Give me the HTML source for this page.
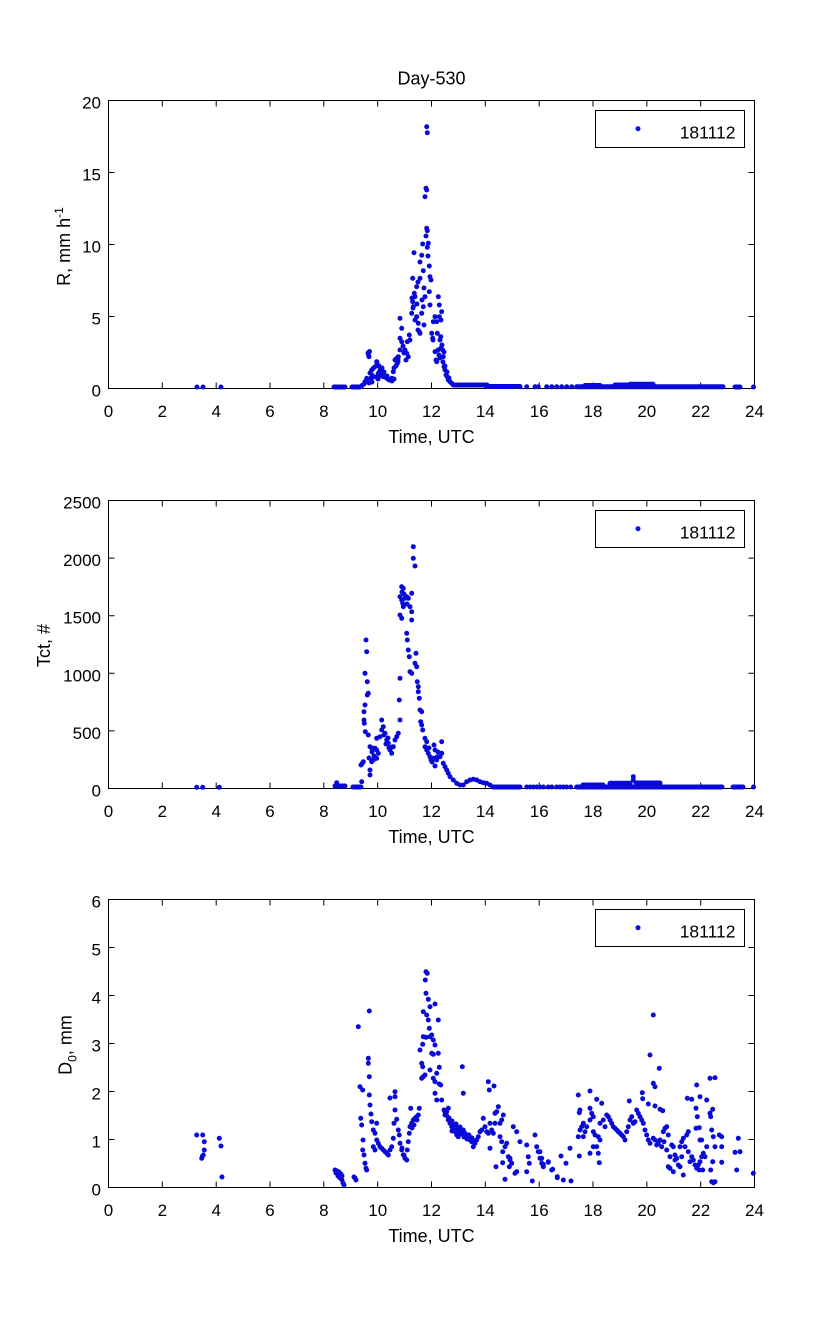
<!DOCTYPE html>
<html><head><meta charset="utf-8"><style>
html,body{margin:0;padding:0;background:#fff;}
svg{display:block;}
text{font-family:"Liberation Sans",Arial,sans-serif;fill:#000;}
.t{font-size:17px;}
.lg{font-size:17.5px;}
.l{font-size:18px;}
.ax{fill:none;stroke:#000;stroke-width:1;}
.pt{fill:none;stroke:#0a0ad8;stroke-width:5;stroke-linecap:round;stroke-linejoin:round;}
</style></head><body>
<svg width="833" height="1334" viewBox="0 0 833 1334" xmlns="http://www.w3.org/2000/svg">
<rect width="833" height="1334" fill="#fff"/>

<!-- ============ PLOT 1 ============ -->
<text class="l" x="431.5" y="84.5" text-anchor="middle">Day-530</text>
<rect class="ax" x="108.5" y="100.5" width="646" height="288"/>
<path class="ax" d="M162.3 388.5v-6M216.2 388.5v-6M270 388.5v-6M323.8 388.5v-6M377.7 388.5v-6M431.5 388.5v-6M485.3 388.5v-6M539.2 388.5v-6M593 388.5v-6M646.8 388.5v-6M700.7 388.5v-6
M162.3 100.5v6M216.2 100.5v6M270 100.5v6M323.8 100.5v6M377.7 100.5v6M431.5 100.5v6M485.3 100.5v6M539.2 100.5v6M593 100.5v6M646.8 100.5v6M700.7 100.5v6
M108.5 316.5h6M108.5 244.5h6M108.5 172.5h6M754.5 316.5h-6M754.5 244.5h-6M754.5 172.5h-6"/>
<g class="t" text-anchor="middle">
<text x="108.5" y="417">0</text><text x="162.3" y="417">2</text><text x="216.2" y="417">4</text><text x="270" y="417">6</text><text x="323.8" y="417">8</text><text x="377.7" y="417">10</text><text x="431.5" y="417">12</text><text x="485.3" y="417">14</text><text x="539.2" y="417">16</text><text x="593" y="417">18</text><text x="646.8" y="417">20</text><text x="700.7" y="417">22</text><text x="754.5" y="417">24</text>
</g>
<g class="t" text-anchor="end">
<text x="101" y="396.5">0</text><text x="101" y="324.5">5</text><text x="101" y="252.5">10</text><text x="101" y="180.5">15</text><text x="101" y="108.5">20</text>
</g>
<text class="l" x="431.5" y="443" text-anchor="middle">Time, UTC</text>
<text class="l" transform="translate(70,246.5) rotate(-90)" text-anchor="middle">R, mm h<tspan font-size="12" dy="-7">-1</tspan></text>
<rect class="ax" x="595.5" y="110.5" width="149" height="37"/>
<path class="pt" d="M638 128.7h0"/>
<text class="lg" x="735.5" y="138.5" text-anchor="end">181112</text>

<path class="pt" d="M197 387h0M203 387h0M221 387h0M334 387H345M352 387H360M362 385.5h0M364 384h0M365 381.7h0M366.7 378.3h0
M368 353h0M369 356.7h0M369.5 351.5h0M368.5 355h0
M367 380h0M369 383h0M371 378h0M372 375h0M372 382h0M370 373h0M371.7 370h0M373.3 368.3h0M375 366.7h0M376.7 361.7h0M377 363h0M376.7 376.7h0M378.3 373.3h0M380 370h0M381.7 373.3h0M383.3 376.7h0M386.7 378.3h0M390 380h0M391.7 378.3h0M393.3 371.7h0M374 377h0M378 379h0M380 376h0M385 377h0M388 379h0M382 368h0M379 366h0M384 372h0M387 376h0M389 380h0M392 381h0M394 379h0
M395 360h0M396.7 358.3h0M398.3 356.7h0M400 350h0M401.7 341.7h0M400 338.3h0M401.7 328.3h0M400 318.3h0M405 350h0M406.7 353.3h0M408.3 356.7h0M406 360h0M407.3 341.7h0M409.3 335h0M410 340h0M398 362h0M397 364h0M403 346h0M404 353h0M396 366h0M394 368h0M398 360h0
M411.7 313.3h0M413.3 306.7h0M412.7 301.7h0M415 296.7h0M414.3 293.3h0M416.7 286.7h0M412.7 278.3h0M414 252.7h0M421.7 255.3h0M422.7 244h0M420 278.3h0M423.3 270.7h0M416.7 316.7h0M418.3 323.3h0M420 333.3h0M419.3 331.7h0M421.7 313.3h0M423.3 306.7h0M424 325h0M425 296.7h0M413 308h0M417 304h0M415 320h0M418 330h0M412 298h0M422 300h0M424 288h0M420 262h0M418 282h0
M426.7 126.7h0M427.3 132.7h0M426 188.3h0M426.7 190h0M425 196.7h0M426.7 228.3h0M427.3 230.7h0M428.3 243.3h0M427.3 247.3h0M429.3 266h0M430 276.7h0M429.3 291.7h0M430 305h0M431.7 333.3h0M432.7 338.3h0M433.3 321.7h0M435 316.7h0M436.7 321.7h0M437.3 333.3h0M438.3 296.7h0M439.3 305h0M439.3 316.7h0M440 340h0M440.7 336.7h0M441.7 311.7h0M442.7 350h0M443.3 356.7h0M444 366.7h0M445 370h0M446 375h0M447.3 376.7h0M448.3 380h0M450 381.7h0M451.7 383.3h0M453.3 385h0M433 340h0M435 351.7h0M436 360h0M436.7 361.7h0M431 280h0M441 320h0M442 345h0M438 350h0M439 355h0M440 358h0M441 348h0M443 362h0M445 366h0M447 372h0M449 378h0M444 352h0M426 236h0M428 256h0
M455 385H487M487 386.5H520M526.7 386.8h0M535 386.8h0M538.3 386.8h0M546.7 386.8h0M551.7 386.8h0M556.7 386.8h0M561.7 386.8h0M566.7 386.8h0M571.7 386.8h0M576.7 386.8H723M585 385.5H600M615 385H627M630 384.3H653M735 387H740M753.5 387h0"/>

<!-- ============ PLOT 2 ============ -->
<rect class="ax" x="108.5" y="500.5" width="646" height="288"/>
<path class="ax" d="M162.3 788.5v-6M216.2 788.5v-6M270 788.5v-6M323.8 788.5v-6M377.7 788.5v-6M431.5 788.5v-6M485.3 788.5v-6M539.2 788.5v-6M593 788.5v-6M646.8 788.5v-6M700.7 788.5v-6
M162.3 500.5v6M216.2 500.5v6M270 500.5v6M323.8 500.5v6M377.7 500.5v6M431.5 500.5v6M485.3 500.5v6M539.2 500.5v6M593 500.5v6M646.8 500.5v6M700.7 500.5v6
M108.5 730.9h6M108.5 673.3h6M108.5 615.7h6M108.5 558.1h6M754.5 730.9h-6M754.5 673.3h-6M754.5 615.7h-6M754.5 558.1h-6"/>
<g class="t" text-anchor="middle">
<text x="108.5" y="817">0</text><text x="162.3" y="817">2</text><text x="216.2" y="817">4</text><text x="270" y="817">6</text><text x="323.8" y="817">8</text><text x="377.7" y="817">10</text><text x="431.5" y="817">12</text><text x="485.3" y="817">14</text><text x="539.2" y="817">16</text><text x="593" y="817">18</text><text x="646.8" y="817">20</text><text x="700.7" y="817">22</text><text x="754.5" y="817">24</text>
</g>
<g class="t" text-anchor="end">
<text x="101" y="796.5">0</text><text x="101" y="738.9">500</text><text x="101" y="681.3">1000</text><text x="101" y="623.7">1500</text><text x="101" y="566.1">2000</text><text x="101" y="508.5">2500</text>
</g>
<text class="l" x="431.5" y="843" text-anchor="middle">Time, UTC</text>
<text class="l" transform="translate(50,645.5) rotate(-90)" text-anchor="middle">Tct, #</text>
<rect class="ax" x="595.5" y="510.5" width="149" height="37"/>
<path class="pt" d="M638 528.7h0"/>
<text class="lg" x="735.5" y="538.5" text-anchor="end">181112</text>

<path class="pt" d="M196.7 787.3h0M202.7 787.3h0M219.3 787.3h0M335 786H345M336.7 782.7h0M353 787H361M361.7 781.7h0M362.3 763.3h0M363.3 761.7h0M361 765h0
M366 640h0M366.7 651.7h0
M365 673.3h0M367.3 681.7h0M368.3 693.3h0M367.3 695h0M365 705h0M364 711.7h0M364.3 723.3h0M365.3 731.7h0M368.3 735h0M364 720h0
M370 746.7h0M371.7 748.3h0M373.3 748.3h0M375 748.3h0M376.7 750h0M378.3 753.3h0M376.7 758.3h0M373.3 760h0M371.7 761.7h0M370 770h0M370 775h0M372 752h0M374 756h0M369 758h0
M376.7 738.3h0M380 736.7h0M381.7 730h0M381.7 720h0M383.3 726.7h0M385 733.3h0M386.7 740h0M388.3 743.3h0M390 750h0M391.7 753.3h0M393.3 746.7h0M395 740h0M396.7 736.7h0M398.3 733.3h0M400 720h0M399.3 700h0M400 678.3h0M384 735h0M386 744h0M389 748h0M392 747h0M388 738h0
M401.7 586.7h0M403.3 588.3h0M400 596.7h0M401.7 600h0M402.7 603.3h0M403.3 606.7h0M400 615h0M401.7 618.3h0M405 598.3h0M406.7 596.7h0M408.3 598.3h0M411.7 593.3h0M410 606.7h0M411.7 611.7h0M411.7 620h0M402 592h0M404 594h0M407 604h0
M406.7 633.3h0M407.3 640h0M408.3 650h0M409.3 656.7h0M410 671.7h0M411.7 673.3h0
M413.3 546.7h0M413.3 558.3h0M415 566h0
M416 653.3h0M415 663.3h0M416.7 666.7h0M417.3 681.7h0M418.3 686.7h0M418.3 691.7h0M419.3 698.3h0M420 710h0M421.7 711.7h0M420.7 721.7h0M421.7 725h0M422.7 730h0M425 738.3h0M426.7 741.7h0M425 746.7h0M426.7 750h0M428.3 753.3h0M430 756.7h0M433.3 758.3h0M436.7 760h0M440 756.7h0M441.7 753.3h0M441.7 741.7h0M443.3 763.3h0M445 766.7h0M446.7 770h0M448.3 773.3h0M450 776.7h0M453.3 780h0M456.7 783.3h0M460 785h0M463.3 785h0M466.7 781.7h0M470 780h0M473.3 779.3h0M476.7 780h0M480 781.7h0M483.3 782.7h0M486.7 783.3h0M490 785h0M435 750h0M432 762h0M438 752h0M429 748h0M434 745h0M437 757h0M431 760h0M435 766h0
M493 787H520M526.7 787h0M530 787h0M533.3 787h0M536.7 787h0M540 787h0M543.3 787h0M548.3 787h0M551.7 787h0M556.7 787h0M560 787h0M563.3 787h0M566.7 787h0M570.7 787h0M576.7 787H722M583 785H603M610 783.3H630M636 783H660M633.3 776.7h0M633.3 780h0M733 787H743M753.5 787h0"/>

<!-- ============ PLOT 3 ============ -->
<rect class="ax" x="108.5" y="899.5" width="646" height="288"/>
<path class="ax" d="M162.3 1187.5v-6M216.2 1187.5v-6M270 1187.5v-6M323.8 1187.5v-6M377.7 1187.5v-6M431.5 1187.5v-6M485.3 1187.5v-6M539.2 1187.5v-6M593 1187.5v-6M646.8 1187.5v-6M700.7 1187.5v-6
M162.3 899.5v6M216.2 899.5v6M270 899.5v6M323.8 899.5v6M377.7 899.5v6M431.5 899.5v6M485.3 899.5v6M539.2 899.5v6M593 899.5v6M646.8 899.5v6M700.7 899.5v6
M108.5 1139.5h6M108.5 1091.5h6M108.5 1043.5h6M108.5 995.5h6M108.5 947.5h6M754.5 1139.5h-6M754.5 1091.5h-6M754.5 1043.5h-6M754.5 995.5h-6M754.5 947.5h-6"/>
<g class="t" text-anchor="middle">
<text x="108.5" y="1216">0</text><text x="162.3" y="1216">2</text><text x="216.2" y="1216">4</text><text x="270" y="1216">6</text><text x="323.8" y="1216">8</text><text x="377.7" y="1216">10</text><text x="431.5" y="1216">12</text><text x="485.3" y="1216">14</text><text x="539.2" y="1216">16</text><text x="593" y="1216">18</text><text x="646.8" y="1216">20</text><text x="700.7" y="1216">22</text><text x="754.5" y="1216">24</text>
</g>
<g class="t" text-anchor="end">
<text x="101" y="1195.5">0</text><text x="101" y="1147.5">1</text><text x="101" y="1099.5">2</text><text x="101" y="1051.5">3</text><text x="101" y="1003.5">4</text><text x="101" y="955.5">5</text><text x="101" y="907.5">6</text>
</g>
<text class="l" x="431.5" y="1242" text-anchor="middle">Time, UTC</text>
<text class="l" transform="translate(71.5,1045) rotate(-90)" text-anchor="middle">D<tspan font-size="12" dy="5">0</tspan><tspan dy="-5">, mm</tspan></text>
<rect class="ax" x="595.5" y="909.5" width="149" height="37"/>
<path class="pt" d="M638 927.7h0"/>
<text class="lg" x="735.5" y="937.5" text-anchor="end">181112</text>

<path class="pt" d="M196.7 1135h0M202.7 1135h0M204.3 1141.7h0M204.3 1150h0M203.3 1155h0M201.7 1158.3h0M202.5 1156h0M219.3 1138.3h0M221 1146h0M222 1177h0
M335 1170h0M337 1171h0M339 1172h0M341 1174h0M338 1176h0M340 1178h0M342 1180h0M343 1183h0M344 1185h0M336 1173h0M342 1176h0M354 1177h0M356 1180h0M355 1178h0
M358.3 1026.7h0M369.3 1011h0
M360 1086.7h0M362.7 1090h0M360.7 1118.3h0M361.7 1125h0M362.7 1150h0M364 1155h0M365 1163.3h0M366 1168.3h0M366.7 1170h0M363 1140h0
M368.3 1058.3h0M368.3 1063.3h0M369.3 1076.7h0M369.3 1095h0M370 1105h0M371 1114h0M371.7 1121.7h0M373.3 1130h0M375 1133.3h0M376.7 1123.3h0M373.3 1146.7h0M375 1150h0
M376.7 1140h0M378.3 1143.3h0M380 1146.7h0M381.7 1148.3h0M383.3 1150h0M385 1151.7h0M386.7 1153.3h0M388.3 1155h0M390 1150h0M391.7 1146.7h0M393.3 1138.3h0M394 1123.3h0M395 1110h0M395 1096.7h0M395 1091.7h0M396.7 1119.3h0M398.3 1130h0M399.3 1135h0M400 1143.3h0M401.7 1150h0M403.3 1155h0M405 1158.3h0M406.7 1160h0M407.3 1150h0M408.3 1141.7h0M409.3 1133.3h0M410 1126.7h0M410.7 1108.3h0M411.7 1123.3h0M413.3 1120h0M415 1118.3h0M416.7 1116.7h0M418.3 1115h0M419.3 1108.3h0M414 1125h0M417 1120h0M412 1128h0M404 1155h0M402 1148h0M390 1098h0
M426 971.7h0M427.3 973.3h0M425.3 980h0M426 993.3h0M428.3 999.3h0M430 1006.7h0M435 1004h0M423.3 1011.7h0M426.7 1015h0M428.3 1020h0M438.3 1020h0M429.3 1028.3h0M431.7 1035h0M423.3 1036.7h0M426 1037.3h0M430 1036.7h0M433.3 1040h0M435 1045h0M422.7 1044.3h0M420 1050h0M431.7 1053.3h0M433.3 1054.3h0M438.3 1053.3h0M421.7 1063.3h0M422.7 1066.7h0M430 1070h0M439.3 1067.3h0M436.7 1073.3h0M421.7 1078.3h0M423.3 1076.7h0M425 1075h0M433.3 1078.3h0M435 1081.7h0M439.3 1084h0M440.7 1085h0M435 1093.3h0M436.7 1100h0M441.7 1100h0
M444 1110h0M446.7 1111.7h0M448.3 1108.3h0M445 1115h0M448.3 1120h0M450 1123.3h0M451.7 1126.7h0M453.3 1130h0M455 1131.7h0M456.7 1135h0M458.3 1136.7h0M460 1133.3h0M461.7 1131.7h0M463.3 1130h0M465 1133.3h0M466.7 1136.7h0M468.3 1138.3h0M470 1140h0M471.7 1141.7h0M473.3 1146.7h0M475 1143.3h0M476.7 1140h0M478.3 1136.7h0M480 1131.7h0M481.7 1130h0M483.3 1118.3h0M485 1126.7h0M486.7 1131.7h0M488.3 1133.3h0M490 1123.3h0M490 1148.3h0M491.7 1130h0M493.3 1133.3h0M495 1113.3h0M496.7 1111.7h0M498.3 1106.7h0M495 1123.3h0M500 1123.3h0M501.7 1120h0M501.7 1141.7h0M503.3 1115h0M500 1136.7h0M502.7 1151.7h0M505 1146.7h0M506.7 1143.3h0M508.3 1156.7h0M510 1158.3h0M511.7 1163.3h0M513.3 1126.7h0M516.7 1131.7h0M515 1173.3h0M516.7 1171.7h0M520 1141.7h0M526.7 1145h0M528.3 1156.7h0M529.3 1163.3h0M535 1135h0M536.7 1146.7h0M538.3 1151.7h0M540 1158.3h0M541.7 1163.3h0M543.3 1166.7h0M548.3 1161.7h0M551.7 1170h0M557.3 1176.7h0
M445 1112h0M447 1116h0M449 1118h0M452 1121h0M454 1125h0M457 1128h0M459 1130h0M462 1134h0M464 1137h0M467 1139h0M469 1135h0M472 1138h0M474 1141h0M456 1124h0M452 1131h0M460 1127h0
M462.3 1066.7h0M463.3 1093.3h0M488.3 1081.7h0M489.3 1090h0M494 1086h0M496 1166.7h0M505 1179.3h0M502.7 1162.7h0M509.3 1166.7h0M510 1160h0M532.3 1181h0M526.7 1171.7h0
M540 1151.7h0M541.7 1158.3h0M543.3 1164.3h0M548.3 1162.3h0M552.7 1169.3h0M557.3 1177.7h0M563.3 1180h0M571 1181h0M561 1156h0M566 1163.3h0M570 1148.3h0
M653.3 1015h0M650 1055h0M659.3 1068.3h0M653.3 1083.3h0M655 1086.7h0
M578.3 1095h0M590 1091h0M596.7 1099.3h0M601.7 1103.3h0M629.3 1101h0M642.3 1092.7h0M642.7 1098.7h0M648.3 1104h0M655 1106h0M660 1109.3h0M662.7 1110.7h0
M580 1110h0M579.3 1112.7h0M590 1108.3h0M591.7 1113.3h0M593.3 1116.7h0M590 1120h0M583.3 1123.3h0M581.7 1126.7h0M580 1130h0M585 1131.7h0M583.3 1136.7h0M578.3 1136.7h0M586.7 1126.7h0M593.3 1131.7h0M595 1135h0M598.3 1136.7h0M600 1140h0M596.7 1146.7h0M593.3 1146.7h0M590 1153.3h0M598.3 1153.3h0M599.3 1162.7h0M579.3 1156h0M600 1123.3h0M603.3 1120h0M605 1126.7h0M606.7 1115h0M608.3 1116.7h0M610 1120h0M611.7 1123.3h0M613.3 1126.7h0M615 1128.3h0M616.7 1130h0M618.3 1131.7h0M620 1133.3h0M621.7 1135h0M623.3 1136.7h0M625 1140h0M626.7 1131.7h0M628.3 1126.7h0M630 1120h0M631.7 1116.7h0M633.3 1123.3h0M635 1121.7h0M636.7 1110h0M638.3 1113.3h0M640 1116.7h0M641.7 1120h0M643.3 1123.3h0M645 1130h0M646.7 1135h0M648.3 1140h0M650 1143.3h0M653.3 1138.3h0M655 1140h0M656.7 1145h0M658.3 1143.3h0M660 1140h0M661.7 1146.7h0M663.3 1131.7h0M665 1128.3h0M666.7 1126.7h0M668.3 1135h0M664 1141.7h0
M666.7 1150h0M670 1156.7h0M671.7 1145h0M673.3 1146.7h0M675 1155h0M676.7 1158.3h0M668.3 1166.7h0M670 1168.3h0M673.3 1171.7h0M675 1160h0M678.3 1165h0M680 1166.7h0M681.7 1156.7h0M683.3 1175h0M680 1146.7h0M681.7 1141.7h0M683.3 1138.3h0M686.7 1135h0M688.3 1131.7h0M685 1146.7h0M688.3 1151.7h0M691.7 1156.7h0M693.3 1160h0M695 1165h0M696.7 1168.3h0M698.3 1165h0M700 1161.7h0M701.7 1156.7h0M703.3 1153.3h0M705 1156.7h0M699.3 1170h0M702.7 1170h0M690 1161.7h0M687.3 1098.3h0M691.7 1099.3h0M696.7 1085h0M696 1108.3h0M697.3 1116.7h0M696 1128.3h0M699.3 1127.7h0M700 1140h0M701.7 1140h0M706.7 1146.7h0M700 1096.7h0M706.7 1100h0M710 1078.3h0M715 1077.7h0M710 1113.3h0M710.7 1116.7h0M712.7 1109.3h0M711.7 1130h0M713.3 1136.7h0M719.3 1135h0M721.7 1136.7h0M721.7 1146.7h0M721.7 1162.3h0M715 1146.7h0M712.7 1161.7h0M710.7 1170h0M711.7 1181.7h0M713.3 1182.7h0M715 1181.7h0M736.7 1170h0M738.3 1138.3h0M735 1152.3h0M740 1151.7h0M753.3 1173.3h0"/>
</svg>
</body></html>
